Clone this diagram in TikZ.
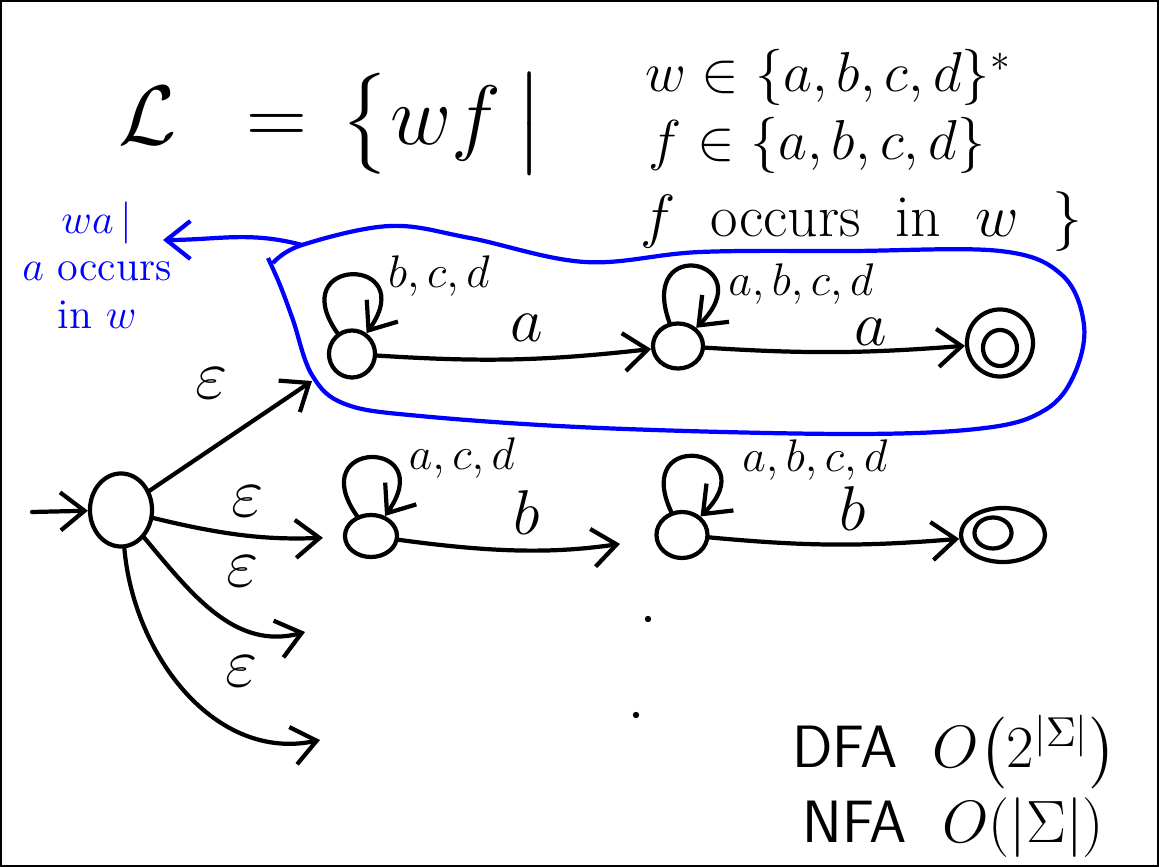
\documentclass[tikz,border=0pt]{standalone}
\usepackage{fix-cm}
\usepackage{amsmath}
\usepackage{amssymb}
\usepackage{xcolor}
\usepackage{tikz}
\usetikzlibrary{positioning,shapes.geometric,arrows.meta}

\begin{document}
\begin{tikzpicture}[x=0.01cm, y=0.01cm, >={Straight Barb[length=2.4mm,width=3.8mm]},
    state/.style={ellipse, draw, line width=1.2pt, inner sep=0pt},
    arrow/.style={->, line width=1.2pt, line cap=round},
    selfloop/.style={arrow, out=125, in=55, min distance=9.5mm},
    bluearrow/.style={->, draw=blue, line width=1.2pt, line cap=round},
    lbl/.style={font=\fontsize{18}{18}\selectfont},
    looplbl/.style={font=\fontsize{13}{13}\selectfont},
    eps/.style={font=\fontsize{20}{20}\selectfont},
    setline/.style={anchor=base west, font=\fontsize{16}{16}\selectfont},
    cost/.style={anchor=base west, font=\fontsize{17}{17}\selectfont}]

    \useasboundingbox (0,0) rectangle (1159,-867);
    \draw[line width=0.6pt] (1,-1) rectangle (1158,-866);

    % the language
    \node[anchor=base west, inner sep=0pt, font=\fontsize{24}{28}\selectfont] (lang) at (118,-145)
        {$\mathcal{L}\hspace{13pt}=\hspace{3pt}\bigl\{wf\hspace{4pt}\bigr|$};
    \node[setline] (cond1) at (633,-92) {$w \in \{a,b,c,d\}^{*}$};
    \node[setline] (cond2) at (636,-160) {$f \in \{a,b,c,d\}$};
    \node[setline, font=\fontsize{17}{17}\selectfont] (cond3) at (628,-237) {$f$\; occurs\; in\; $w$\;\;$\}$};

    % states
    \node[state, minimum width=6.2mm, minimum height=7.3mm] at (121,-510) (q0) {};
    \node[state, minimum width=4.6mm, minimum height=4.7mm] at (352,-354) (A1) {};
    \node[state, minimum width=5mm, minimum height=4.5mm] at (678,-346) (A2) {};
    \node[state, minimum width=6.6mm, minimum height=6.7mm] at (1000,-343) (A3) {};
    \node[state, minimum width=3.4mm, minimum height=3.6mm] at (1000,-348) (A3in) {};
    \node[state, minimum width=5.2mm, minimum height=4.2mm] at (371,-536) (B1) {};
    \node[state, minimum width=5.1mm, minimum height=4.6mm] at (682,-535) (B2) {};
    \node[state, minimum width=8.4mm, minimum height=5.4mm] at (1003,-535) (B3) {};
    \node[state, minimum width=3.7mm, minimum height=3.1mm] at (993,-533) (B3in) {};

    \coordinate (entry) at (32,-512);
    \coordinate (open1) at (305,-632);
    \coordinate (open2) at (320,-740);

    % epsilon moves
    \draw[arrow] (entry) -- (q0);
    \draw[arrow, shorten >=2.3mm] (q0) -- node[eps, pos=0.45, above=2.3mm, xshift=-2mm] (e1) {$\varepsilon$} (A1);
    \draw[arrow, shorten >=2mm] (q0) to[bend right=8] node[eps, above=0.5mm] (e2) {$\varepsilon$} (B1);
    \draw[arrow] (q0) to[out=-50, in=195] node[eps, pos=0.48, above right=1mm and 0mm] (e3) {$\varepsilon$} (open1);
    \draw[arrow] (q0) to[out=-85, in=192] node[eps, pos=0.6, above right=1.3mm and 0.3mm] (e4) {$\varepsilon$} (open2);

    % first row
    \draw[selfloop] (A1) to (A1);
    \node[looplbl] (lA1) at (439,-276) {$b,c,d$};
    \draw[arrow] (A1) to[bend right=5] node[lbl, above=0.4mm, pos=0.55] (tA1) {$a$} (A2);
    \draw[selfloop, out=110, in=45] (A2) to (A2);
    \node[looplbl] (lA2) at (801,-284) {$a,b,c,d$};
    \draw[arrow] (A2) to[bend right=4] node[lbl, above=-0.8mm, pos=0.65] (tA2) {$a$} (A3);

    % second row
    \draw[selfloop] (B1) to (B1);
    \node[looplbl] (lB1) at (462,-458) {$a,c,d$};
    \draw[arrow, shorten >=3.5mm] (B1) to[bend right=8] node[lbl, above=0.1mm] (tB1) {$b$} (B2);
    \draw[selfloop, out=115, in=45] (B2) to (B2);
    \node[looplbl] (lB2) at (815,-460) {$a,b,c,d$};
    \draw[arrow] (B2) to[bend right=5] node[lbl, above=0mm, pos=0.58] (tB2) {$b$} (B3);

    % more rows
    \fill (648,-619) circle (3.2);
    \fill (636,-715) circle (3.2);

    % blue box and note
    \draw[blue, line width=1.2pt] plot[smooth, tension=0.6] coordinates {(273,-263) (302,-245) (390,-226) (470,-238) (585,-262) (700,-252) (850,-251) (1000,-251) (1062,-275) (1084,-325) (1074,-375) (1045,-410) (985,-428) (850,-434) (600,-428) (420,-416) (345,-404) (312,-375) (293,-320) (280,-285) (268,-258)};
    \coordinate (loopjoin) at (302,-245);
    \coordinate (notetip) at (163,-240);
    \draw[bluearrow] (loopjoin) to[out=165, in=0] (notetip);
    \node[text=blue, align=center, font=\fontsize{12}{13.5}\selectfont] (note) at (97,-265) {$wa\,|$\\$a$ occurs\\in $w$};

    % sizes
    \node[cost] (dfa) at (780,-768) {\sffamily DFA\; $O\big(2^{|\Sigma|}\big)$};
    \node[cost] (nfa) at (790,-843) {\sffamily NFA\; $O(|\Sigma|)$};
\end{tikzpicture}
\end{document}
